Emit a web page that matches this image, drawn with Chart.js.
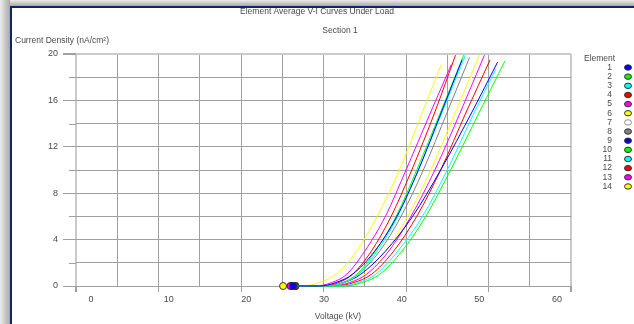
<!DOCTYPE html>
<html><head><meta charset="utf-8">
<script src="https://cdn.jsdelivr.net/npm/chart.js@4/dist/chart.umd.min.js"></script>
<style>
html,body{margin:0;padding:0;width:634px;height:324px;overflow:hidden;background:#fff;}
#shTop{position:absolute;left:0;top:0;width:634px;height:6px;background:linear-gradient(#ececec,#a8a8a8);}
#shLeft{position:absolute;left:0;top:0;width:10px;height:324px;background:linear-gradient(to right,#ececec,#a8a8a8);}
#frame{position:absolute;left:10px;top:6px;width:640px;height:340px;border-left:2px solid #0b2567;border-top:2px solid #0b2567;background:#fff;}
#wrap{position:absolute;left:0;top:0;width:634px;height:324px;}
</style></head>
<body>
<div id="shTop"></div><div id="shLeft"></div><div id="frame"></div>
<div id="wrap"><canvas id="c" width="634" height="324"></canvas></div>
<script>
const chartTitle = 'Element Average V-I Curves Under Load';
const chartSubtitle = 'Section 1';
const xTitle = 'Voltage (kV)';
const yTitle = 'Current Density (nA/cm\u00B2)';
const legendTitle = 'Element';
const elements = ['1','2','3','4','5','6','7','8','9','10','11','12','13','14'];
const elementColors = ['#0000ff','#00ff00','#00ffff','#ff0000','#ff00ff','#ffff00','#ffffff','#808080','#0000ff','#00ff00','#00ffff','#ff0000','#ff00ff','#ffff00'];
const xTickLabels = [0,10,20,30,40,50,60];
const yTickLabels = [0,4,8,12,16,20];

// [voltage kV, current density nA/cm2]
const element1  = [[26.3,0],[29.5,0],[31.5,0.3],[33.5,1],[36.2,3],[38.9,6],[41.5,10],[44.3,15],[46.8,19.5]];
const element2  = [[26.3,0],[32.5,0],[34.7,0.3],[36.8,1],[39.5,3],[42.4,6],[45.4,10],[48.9,15],[52.0,19.4]];
const element3  = [[26.3,0],[30.5,0],[32.5,0.3],[34.2,1],[36.5,3],[39.0,6],[41.5,10],[44.4,15],[47.2,19.9]];
const element4  = [[26.6,0],[30.0,0],[32.0,0.35],[33.5,1],[35.8,3],[38.2,6],[40.7,10],[43.5,15],[46.0,19.9]];
const element5  = [[26.0,0],[29.0,0],[31.0,0.3],[32.8,1],[35.0,3],[37.5,6],[40.0,10],[43.0,15],[45.5,19.1]];
const element6  = [[25.1,0],[27.5,0],[29.5,0.3],[31.5,1],[34.0,3],[36.5,6],[39.2,10],[42.0,15],[44.3,19.1]];
const element7  = [[26.3,0],[31.0,0],[33.0,0.3],[35.0,1],[37.7,3],[40.4,6],[43.2,10],[46.2,15],[48.5,19.0]];
const element8  = [[26.3,0],[30.5,0],[32.5,0.3],[34.2,1],[36.8,3],[39.4,6],[42.1,10],[45.0,15],[47.7,19.7]];
const element9  = [[26.3,0],[30.5,0],[32.5,0.3],[34.5,1],[37.5,3],[40.8,6],[44.2,10],[48.0,15],[51.1,19.3]];
const element10 = [[26.3,0],[30.5,0],[32.3,0.3],[34.0,1],[36.3,3],[38.8,6],[41.3,10],[44.2,15],[47.0,19.9]];
const element11 = [[26.3,0],[32.0,0],[34.2,0.3],[36.3,1],[39.0,3],[42.0,6],[45.0,10],[48.3,15],[50.9,18.7]];
const element12 = [[26.6,0],[31.5,0],[33.7,0.3],[35.8,1],[38.5,3],[41.3,6],[44.2,10],[47.3,15],[50.2,19.5]];
const element13 = [[26.1,0],[31.0,0],[33.2,0.3],[35.2,1],[37.9,3],[40.6,6],[43.5,10],[46.6,15],[49.5,19.9]];
const element14 = [[26.3,0],[31.0,0],[33.0,0.3],[35.0,1],[37.6,3],[40.2,6],[43.0,10],[46.0,15],[48.9,19.9]];
const elementCurves = [element1,element2,element3,element4,element5,element6,element7,element8,element9,element10,element11,element12,element13,element14];

const TEXT = '#4a4a4a';
const GRID = '#a0a0a0';
const EDGE = '#cacaca';
Chart.defaults.font.family = '"Liberation Sans", Arial, sans-serif';

const datasets = elements.map((name, i) => ({
  label: name,
  data: elementCurves[i].map(p => ({x: p[0], y: p[1]})),
  borderColor: elementColors[i],
  backgroundColor: elementColors[i],
  borderWidth: 1,
  cubicInterpolationMode: 'monotone',
  pointRadius: c => c.dataIndex === 0 ? 3.5 : 0,
  pointBorderColor: i === 6 ? '#909090' : '#303030',
  pointBorderWidth: 1,
  pointBackgroundColor: elementColors[i],
  order: i === 6 ? 1 : 0,
  clip: false
}));

const decor = {
  id: 'decor',
  afterDraw(chart) {
    const ctx = chart.ctx, ys = chart.scales.y, area = chart.chartArea;
    ctx.save();
    // minor y tick marks
    ctx.strokeStyle = GRID; ctx.lineWidth = 1;
    ys.ticks.forEach(t => {
      if (!yTickLabels.includes(t.value)) {
        const py = Math.round(ys.getPixelForValue(t.value)) + 0.5;
        ctx.beginPath(); ctx.moveTo(area.left - 7, py); ctx.lineTo(area.left, py); ctx.stroke();
      }
    });
    ctx.fillStyle = TEXT;
    ctx.font = '8.5px "Liberation Sans", Arial, sans-serif';
    ctx.textBaseline = 'middle';
    ctx.textAlign = 'center';
    ctx.fillText(chartTitle, 317, 12);
    ctx.fillText(chartSubtitle, 340, 31);
    ctx.fillText(xTitle, 338, 317);
    ctx.textAlign = 'left';
    ctx.fillText(yTitle, 15, 41);
    // legend
    ctx.fillText(legendTitle, 584, 59);
    ctx.textAlign = 'right';
    chart.data.datasets.forEach((ds, i) => {
      const yy = 67.5 + i * 9.15;
      ctx.fillStyle = TEXT;
      ctx.fillText(ds.label, 612, yy);
      ctx.beginPath();
      ctx.ellipse(628, yy, 3.5, 2.7, 0, 0, Math.PI * 2);
      ctx.fillStyle = ds.backgroundColor;
      ctx.fill();
      ctx.strokeStyle = i === 6 ? '#909090' : '#303030';
      ctx.stroke();
    });
    ctx.restore();
  }
};

new Chart(document.getElementById('c'), {
  type: 'line',
  data: { datasets },
  plugins: [decor],
  options: {
    responsive: false,
    animation: false,
    devicePixelRatio: 1,
    layout: { padding: { left: 10, top: 54, right: 63, bottom: 0 } },
    plugins: { legend: { display: false }, tooltip: { enabled: false }, title: { display: false } },
    scales: {
      x: {
        type: 'linear', position: 'bottom', min: 0, max: 60,
        afterFit(s) { s.height = 6; },
        ticks: { display: false, stepSize: 5 },
        grid: {
          color: c => (c.tick.value === 0 || c.tick.value === 60) ? EDGE : GRID,
          lineWidth: c => (c.tick.value === 0 || c.tick.value === 60) ? 2 : 1,
          tickLength: 6,
          tickColor: c => xTickLabels.includes(c.tick.value) ? GRID : 'rgba(0,0,0,0)'
        },
        border: { display: false }
      },
      x2: {
        type: 'linear', position: 'bottom', min: -1.93, max: 61.8,
        afterFit(s) { s.height = 32; },
        afterBuildTicks(s) { s.ticks = xTickLabels.map(v => ({ value: v })); },
        ticks: { color: TEXT, font: { size: 9 }, padding: 2, autoSkip: false, maxRotation: 0 },
        grid: { display: false, drawTicks: false },
        border: { display: false }
      },
      y: {
        type: 'linear', min: 0, max: 20,
        afterFit(s) { s.width = 66; },
        ticks: { stepSize: 2, color: TEXT, font: { size: 9 }, padding: 5,
          callback: v => yTickLabels.includes(v) ? String(v) : '' },
        grid: {
          color: c => c.tick.value === 20 ? EDGE : GRID,
          lineWidth: c => c.tick.value === 20 ? 2 : 1,
          tickLength: 13,
          tickColor: c => yTickLabels.includes(c.tick.value) ? GRID : 'rgba(0,0,0,0)'
        },
        border: { display: false }
      }
    }
  }
});
</script>
</body></html>
